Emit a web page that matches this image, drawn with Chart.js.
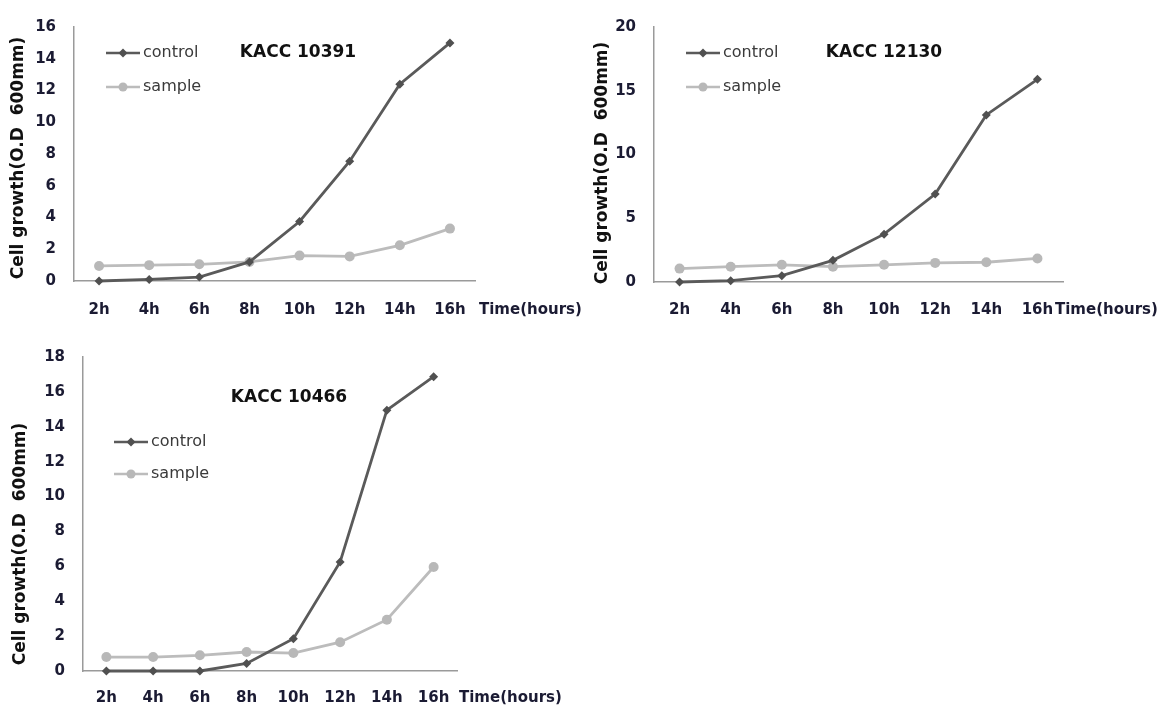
<!DOCTYPE html>
<html>
<head>
<meta charset="utf-8">
<script src="https://cdn.jsdelivr.net/npm/chart.js@4.4.1/dist/chart.umd.min.js"></script>
<style>
  body { margin: 0; background: #fff; }
  .wrap { position: relative; width: 1160px; height: 708px; }
  canvas { position: absolute; }
</style>
</head>
<body>
<div class="wrap">
  <canvas id="c1" width="590" height="330" style="left:0;top:0"></canvas>
  <canvas id="c2" width="570" height="330" style="left:590px;top:0"></canvas>
  <canvas id="c3" width="590" height="378" style="left:0;top:330px"></canvas>
</div>
<script>
// time points
const hours = ['2h', '4h', '6h', '8h', '10h', '12h', '14h', '16h'];

// KACC 10391
const control10391 = [0.0, 0.1, 0.25, 1.2, 3.75, 7.55, 12.4, 15.0];
const sample10391 = [0.95, 1.0, 1.05, 1.2, 1.6, 1.55, 2.25, 3.3];

// KACC 12130
const control12130 = [0.0, 0.1, 0.5, 1.7, 3.75, 6.9, 13.1, 15.9];
const sample12130 = [1.05, 1.2, 1.35, 1.2, 1.35, 1.5, 1.55, 1.85];

// KACC 10466
const control10466 = [0.0, 0.0, 0.0, 0.43, 1.85, 6.25, 14.95, 16.87];
const sample10466 = [0.8, 0.8, 0.9, 1.09, 1.03, 1.65, 2.94, 5.96];

const seriesNames = ['control', 'sample'];
const yTitle = 'Cell growth(O.D  600mm)';
const xTitle = 'Time(hours)';

const darkGray = '#5a5a5a';
const lightGray = '#bcbcbc';
const tickColor = '#1b1b33';

// draws the strain name, the little legend and both axis titles
const decorPlugin = {
  id: 'decor',
  afterDraw(chart, args, opts) {
    const ctx = chart.ctx;
    ctx.save();
    // strain title
    ctx.font = 'bold 17px "DejaVu Sans"';
    ctx.fillStyle = '#111';
    ctx.textAlign = 'center';
    ctx.textBaseline = 'middle';
    ctx.fillText(opts.title, opts.titleX, opts.titleY);

    // legend
    chart.data.datasets.forEach((ds, i) => {
      const y = opts.legY + i * opts.legGap;
      ctx.strokeStyle = ds.borderColor;
      ctx.lineWidth = 2.5;
      ctx.beginPath();
      ctx.moveTo(opts.legX, y);
      ctx.lineTo(opts.legX + 34, y);
      ctx.stroke();
      ctx.fillStyle = ds.pointBackgroundColor;
      const mx = opts.legX + 17;
      ctx.beginPath();
      if (ds.pointStyle === 'rectRot') {
        ctx.moveTo(mx, y - 4.5); ctx.lineTo(mx + 4.5, y); ctx.lineTo(mx, y + 4.5); ctx.lineTo(mx - 4.5, y);
        ctx.closePath();
      } else {
        ctx.arc(mx, y, 4.5, 0, Math.PI * 2);
      }
      ctx.fill();
      ctx.font = '16px "DejaVu Sans"';
      ctx.fillStyle = '#3a3a3a';
      ctx.textAlign = 'left';
      ctx.fillText(ds.label, opts.legX + 37, y);
    });

    // x axis title
    ctx.font = 'bold 15px "DejaVu Sans"';
    ctx.fillStyle = tickColor;
    ctx.textAlign = 'left';
    ctx.fillText(xTitle, opts.xtX, opts.xtY);

    // y axis title
    ctx.translate(opts.ytX, opts.ytY);
    ctx.rotate(-Math.PI / 2);
    ctx.font = 'bold 17px "DejaVu Sans"';
    ctx.fillStyle = '#111';
    ctx.textAlign = 'center';
    ctx.fillText(yTitle, 0, 0);
    ctx.restore();
  }
};

function makeChart(id, control, sample, yMax, yStep, pad, yWidth, xHeight, xPad, decor) {
  return new Chart(document.getElementById(id), {
    type: 'line',
    data: {
      labels: hours,
      datasets: [
        {
          label: seriesNames[0],
          data: control,
          borderColor: darkGray,
          borderWidth: 2.8,
          pointStyle: 'rectRot',
          pointRadius: 4.5,
          pointBackgroundColor: '#505050',
          pointBorderColor: '#505050',
          pointBorderWidth: 0,
          tension: 0,
          clip: false
        },
        {
          label: seriesNames[1],
          data: sample,
          borderColor: lightGray,
          borderWidth: 2.8,
          pointStyle: 'circle',
          pointRadius: 5,
          pointBackgroundColor: '#b8b8b8',
          pointBorderColor: '#b8b8b8',
          pointBorderWidth: 0,
          tension: 0,
          clip: false
        }
      ]
    },
    options: {
      responsive: false,
      animation: false,
      events: [],
      layout: { padding: pad },
      plugins: {
        legend: { display: false },
        tooltip: { enabled: false },
        decor: decor
      },
      scales: {
        x: {
          offset: true,
          grid: { display: false, drawTicks: false },
          border: { display: true, color: '#9a9a9a', width: 1.5 },
          ticks: {
            padding: xPad,
            autoSkip: false,
            maxRotation: 0,
            color: tickColor,
            font: { family: 'DejaVu Sans', size: 15, weight: 'bold' }
          },
          afterFit(scale) { scale.height = xHeight; }
        },
        y: {
          min: 0,
          max: yMax,
          grid: { display: false, drawTicks: false },
          border: { display: true, color: '#9a9a9a', width: 1.5 },
          ticks: {
            stepSize: yStep,
            padding: 18,
            color: tickColor,
            font: { family: 'DejaVu Sans', size: 15, weight: 'bold' }
          },
          afterFit(scale) { scale.width = yWidth; }
        }
      }
    },
    plugins: [decorPlugin]
  });
}

makeChart('c1', control10391, sample10391, 16, 2,
  { left: 0, top: 23, right: 115, bottom: 0 }, 74, 49, 20,
  { title: 'KACC 10391', titleX: 298, titleY: 53, legX: 106, legY: 53, legGap: 34,
    xtX: 479, xtY: 310, ytX: 19, ytY: 158 });

makeChart('c2', control12130, sample12130, 20, 5,
  { left: 0, top: 14, right: 97, bottom: 0 }, 64, 48, 19,
  { title: 'KACC 12130', titleX: 294, titleY: 53, legX: 96, legY: 53, legGap: 34,
    xtX: 465, xtY: 310, ytX: 13, ytY: 163 });

makeChart('c3', control10466, sample10466, 18, 2,
  { left: 0, top: 21, right: 133, bottom: 0 }, 83, 37, 18,
  { title: 'KACC 10466', titleX: 289, titleY: 68, legX: 114, legY: 112, legGap: 32,
    xtX: 459, xtY: 368, ytX: 21, ytY: 214 });
</script>
</body>
</html>
